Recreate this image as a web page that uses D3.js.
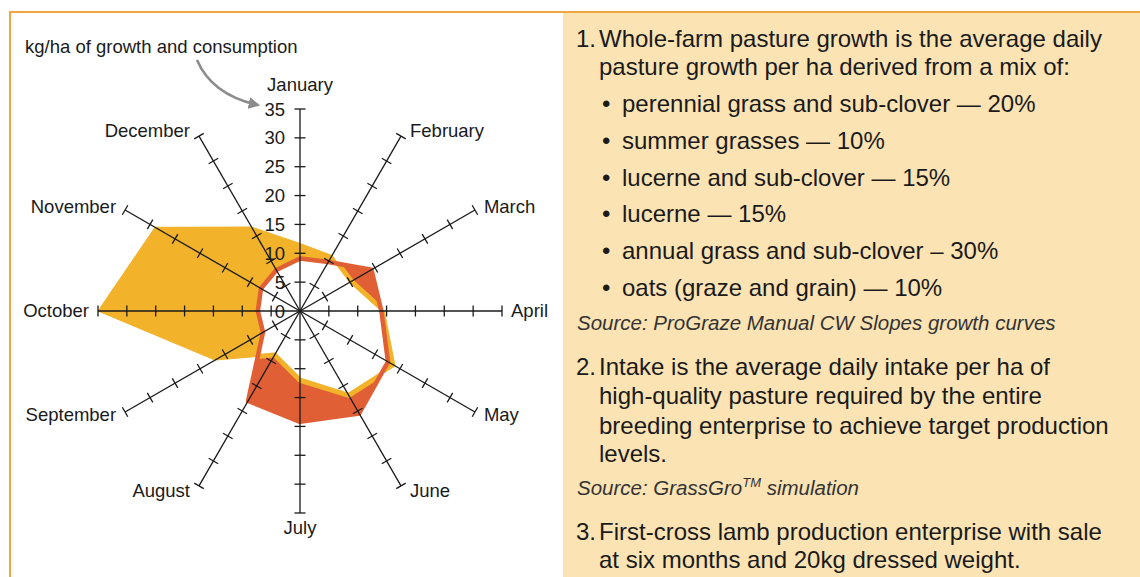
<!DOCTYPE html>
<html><head><meta charset="utf-8">
<script src="https://cdn.jsdelivr.net/npm/d3@7"></script>
<style>
body{margin:0;background:#fff}
svg{display:block}
text{font-family:"Liberation Sans",Arial,Helvetica,sans-serif;fill:#1a1a1a}
</style>
</head><body><svg id="c" width="1140" height="577"></svg>
<script>
const months = ["January","February","March","April","May","June","July","August","September","October","November","December"];
const growth = [11.7, 11.1, 10.3, 14.6, 19.0, 16.9, 12.0, 8.8, 17.0, 35.0, 29.0, 16.8];
const intake = [9.1, 9.8, 14.3, 14.1, 17.6, 20.5, 19.2, 18.0, 7.4, 7.3, 7.8, 8.2];
const tickValues = [0, 5, 10, 15, 20, 25, 30, 35];
const axisTitle = "kg/ha of growth and consumption";

const note1 = ["Whole-farm pasture growth is the average daily", "pasture growth per ha derived from a mix of:"];
const mixItems = ["perennial grass and sub-clover \u2014 20%", "summer grasses \u2014 10%", "lucerne and sub-clover \u2014 15%", "lucerne \u2014 15%", "annual grass and sub-clover \u2013 30%", "oats (graze and grain) \u2014 10%"];
const source1 = "Source: ProGraze Manual CW Slopes growth curves";
const note2 = ["Intake is the average daily intake per ha of", "high-quality pasture required by the entire", "breeding enterprise to achieve target production", "levels."];
const note3 = ["First-cross lamb production enterprise with sale", "at six months and 20kg dressed weight."];

const GOLD = "#f2b229", RED = "#e05f35", BEIGE = "#fbe3b4", BORDER = "#f0a640";

const svg = d3.select("#c");
svg.append("rect").attr("width",1140).attr("height",577).attr("fill","#fff");
// panel
svg.append("rect").attr("x",563).attr("y",12).attr("width",577).attr("height",565).attr("fill",BEIGE);
svg.append("line").attr("x1",9).attr("x2",1140).attr("y1",12).attr("y2",12).attr("stroke",BORDER).attr("stroke-width",2);
svg.append("line").attr("x1",10).attr("x2",10).attr("y1",12).attr("y2",577).attr("stroke",BORDER).attr("stroke-width",2);

const cx = 300, cy = 311;
const r = d3.scaleLinear().domain([0,35]).range([0,202]);
const ang = d3.scaleLinear().domain([0,12]).range([0,2*Math.PI]);
const radial = d3.lineRadial().angle((d,i)=>ang(i)).radius(d=>r(d)).curve(d3.curveLinearClosed);

const g = svg.append("g").attr("transform",`translate(${cx},${cy})`);
const defs = svg.append("defs");
defs.append("clipPath").attr("id","clipIntake").append("path").attr("d",radial(intake));

// fills
g.append("path").attr("d",radial(intake)).attr("fill",RED);
g.append("path").attr("d",radial(growth)).attr("fill",GOLD).attr("stroke",GOLD).attr("stroke-width",1);
g.append("path").attr("d",radial(growth)).attr("fill","#fff").attr("clip-path","url(#clipIntake)");
g.append("path").attr("d",radial(growth)).attr("fill","none").attr("stroke",GOLD).attr("stroke-width",5).attr("stroke-linejoin","round").attr("clip-path","url(#clipIntake)");
g.append("path").attr("d",radial(intake)).attr("fill","none").attr("stroke",RED).attr("stroke-width",4.5).attr("stroke-linejoin","round");

// axes
months.forEach((m,i)=>{
  const a = ang(i)*180/Math.PI;
  const ax = g.append("g").attr("transform",`rotate(${a})`);
  ax.append("line").attr("x1",0).attr("y1",0).attr("x2",0).attr("y2",-r(35)).attr("stroke","#1a1a1a").attr("stroke-width",1.3);
  ax.selectAll("line.t").data(tickValues.filter(v=>v>0)).enter().append("line").attr("class","t")
    .attr("x1",-5.5).attr("x2",5.5).attr("y1",d=>-r(d)).attr("y2",d=>-r(d)).attr("stroke","#1a1a1a").attr("stroke-width",1.3);
});
// month labels
const LFS = 18.5;
months.forEach((m,i)=>{
  const t = ang(i), s = Math.sin(t), c = Math.cos(t);
  const ex = r(35)*s, ey = -r(35)*c;
  let x, y, anchor;
  if (Math.abs(s) < 0.01) { anchor="middle"; x=ex; y = c>0 ? ey-24+6 : ey+15+6; }
  else { anchor = s>0 ? "start" : "end"; x = ex + (s>0?9:-9); y = ey - c*6 + 6; }
  g.append("text").attr("x",x).attr("y",y).attr("text-anchor",anchor).attr("font-size",LFS).text(m);
});
// tick labels on January axis
g.selectAll("text.tl").data(tickValues).enter().append("text").attr("class","tl")
  .attr("x",-15).attr("y",d=>-r(d)+6.5).attr("text-anchor","end").attr("font-size",LFS).text(d=>d);

// axis title and arrow
svg.append("text").attr("x",25).attr("y",53).attr("font-size",LFS).text(axisTitle);
defs.append("marker").attr("id","arr").attr("viewBox","0 0 10 10").attr("refX",8).attr("refY",5)
  .attr("markerWidth",4.5).attr("markerHeight",4.5).attr("orient","auto")
  .append("path").attr("d","M0,0 L10,5 L0,10 z").attr("fill","#8c8c8c");
svg.append("path").attr("d","M197,60 Q212,95 258,105").attr("fill","none").attr("stroke","#8c8c8c").attr("stroke-width",2.6).attr("marker-end","url(#arr)");

// right panel text
const FS = 24, SFS = 20.5;
const p = svg.append("g");
function line(x,y,txt,opts={}){ const t=p.append("text").attr("x",x).attr("y",y).attr("font-size",opts.fs||FS).text(txt); if(opts.italic) t.attr("font-style","italic").style("fill","#333"); return t; }
line(576,47,"1.");
note1.forEach((s,i)=>line(599,[47,75][i],s));
const by = [112,149,186,222,259,296];
mixItems.forEach((s,i)=>{ line(602,by[i],"\u2022"); line(622,by[i],s); });
line(577,330,source1,{fs:SFS,italic:true});
line(576,375,"2.");
note2.forEach((s,i)=>line(599,[375,404,434,462][i],s));
const s2 = line(577,495,"Source: GrassGro",{fs:SFS,italic:true});
s2.append("tspan").attr("dy",-8).attr("font-size",13).text("TM");
s2.append("tspan").attr("dy",8).text(" simulation");
line(576,540,"3.");
note3.forEach((s,i)=>line(599,[540,568][i],s));
</script>
</body></html>
